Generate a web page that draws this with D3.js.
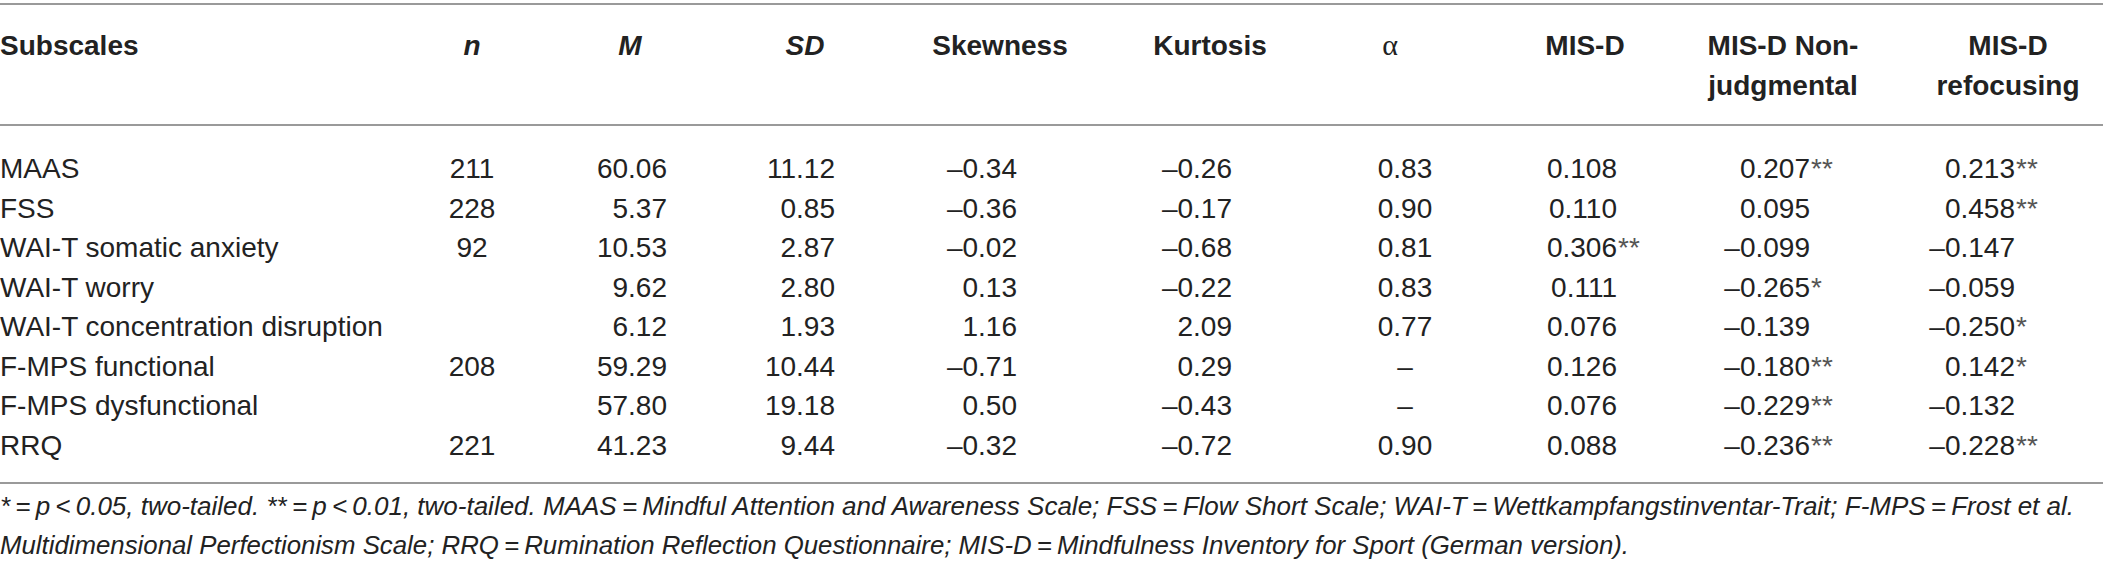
<!DOCTYPE html>
<html>
<head>
<meta charset="utf-8">
<script src="https://cdn.jsdelivr.net/npm/d3@7"></script>
<style>
  body { margin: 0; background: #fff; }
  svg { display: block; }
</style>
</head>
<body>
<div id="chart"></div>
<script>
// table contents, row by row per column
const subscales = ["MAAS", "FSS", "WAI-T somatic anxiety", "WAI-T worry", "WAI-T concentration disruption",
  "F-MPS functional", "F-MPS dysfunctional", "RRQ"]
const nValues = ["211", "228", "92", "", "", "208", "", "221"]
const means = ["60.06", "5.37", "10.53", "9.62", "6.12", "59.29", "57.80", "41.23"]
const sds = ["11.12", "0.85", "2.87", "2.80", "1.93", "10.44", "19.18", "9.44"]
const skewness = ["–0.34", "–0.36", "–0.02", "0.13", "1.16", "–0.71", "0.50", "–0.32"]
const kurtosis = ["–0.26", "–0.17", "–0.68", "–0.22", "2.09", "0.29", "–0.43", "–0.72"]
const alphas = ["0.83", "0.90", "0.81", "0.83", "0.77", "–", "–", "0.90"]
const misD = ["0.108", "0.110", "0.306**", "0.111", "0.076", "0.126", "0.076", "0.088"]
const misNonJudgmental = ["0.207**", "0.095", "–0.099", "–0.265*", "–0.139", "–0.180**", "–0.229**", "–0.236**"]
const misRefocusing = ["0.213**", "0.458**", "–0.147", "–0.059", "–0.250*", "0.142*", "–0.132", "–0.228**"]

const headers = [
  { key: "sub", lines: ["Subscales"] },
  { key: "n", lines: ["n"], italic: true },
  { key: "M", lines: ["M"], italic: true },
  { key: "SD", lines: ["SD"], italic: true },
  { key: "skew", lines: ["Skewness"] },
  { key: "kurt", lines: ["Kurtosis"] },
  { key: "alpha", lines: ["α"], greek: true },
  { key: "misd", lines: ["MIS-D"] },
  { key: "nonj", lines: ["MIS-D Non-", "judgmental"] },
  { key: "refo", lines: ["MIS-D", "refocusing"] }
]

const footnotes = [
  "*\u2009=\u2009p\u2009<\u20090.05, two-tailed. **\u2009=\u2009p\u2009<\u20090.01, two-tailed. MAAS\u2009=\u2009Mindful Attention and Awareness Scale; FSS\u2009=\u2009Flow Short Scale; WAI-T\u2009=\u2009Wettkampfangstinventar-Trait; F-MPS\u2009=\u2009Frost et al.",
  "Multidimensional Perfectionism Scale; RRQ\u2009=\u2009Rumination Reflection Questionnaire; MIS-D\u2009=\u2009Mindfulness Inventory for Sport (German version)."
]

const width = 2103
const height = 572
const fontSize = 28
const textColor = "#222"
const ruleColor = "#9a9a9a"

const svg = d3.select('#chart').append('svg').attr('width', width).attr('height', height)

const columns = [
  { key: "n", values: nValues, align: "middle" },
  { key: "M", values: means, align: "end" },
  { key: "SD", values: sds, align: "end" },
  { key: "skew", values: skewness, align: "end" },
  { key: "kurt", values: kurtosis, align: "end" },
  { key: "alpha", values: alphas, align: "middle" },
  { key: "misd", values: misD, align: "stars" },
  { key: "nonj", values: misNonJudgmental, align: "stars" },
  { key: "refo", values: misRefocusing, align: "stars" }
]

// where each header is centred
const headerX = d3.scaleOrdinal()
  .domain(headers.map(function(h) { return h.key }))
  .range([0, 472, 630, 805, 1000, 1210, 1390, 1585, 1783, 2008])

// where each column's numbers line up
const cellX = d3.scaleOrdinal()
  .domain(columns.map(function(c) { return c.key }))
  .range([472, 667, 835, 1017, 1232, 1405, 1617, 1810, 2015])

const yScale = d3.scalePoint().domain(subscales).range([168, 445])
const headerLineY = d3.scalePoint().domain([0, 1]).range([45, 85])

// rules
svg.selectAll('line.rule').data([4, 125, 483])
  .enter().append('line')
  .attr('class', 'rule')
  .attr('x1', 0).attr('x2', width)
  .attr('y1', function(d) { return d }).attr('y2', function(d) { return d })
  .attr('stroke', ruleColor).attr('stroke-width', 2)

// header
const headerG = svg.append('g')
  .attr('font-family', 'Liberation Sans, Arial, sans-serif')
  .attr('font-size', fontSize)
  .attr('font-weight', 'bold')
  .attr('fill', textColor)

headers.forEach(function(h) {
  h.lines.forEach(function(line, i) {
    const t = headerG.append('text')
      .attr('x', headerX(h.key))
      .attr('y', headerLineY(i) + 10)
      .attr('text-anchor', h.key === 'sub' ? 'start' : 'middle')
      .text(line)
    if (h.italic) t.attr('font-style', 'italic')
    if (h.greek) t.attr('font-weight', 'normal').attr('font-family', 'Liberation Serif, serif').attr('font-size', 30)
  })
})

// body
const bodyG = svg.append('g')
  .attr('font-family', 'Liberation Sans, Arial, sans-serif')
  .attr('font-size', fontSize)
  .attr('fill', textColor)

bodyG.selectAll('text.sub').data(subscales)
  .enter().append('text')
  .attr('class', 'sub')
  .attr('x', 0)
  .attr('y', function(d) { return yScale(d) + 10 })
  .text(function(d) { return d })

columns.forEach(function(col) {
  col.values.forEach(function(v, i) {
    if (v === "") return
    const y = yScale(subscales[i]) + 10
    if (col.align === "stars") {
      // numbers line up, significance stars hang to the right
      const num = v.replace(/\*+$/, '')
      const stars = v.slice(num.length)
      bodyG.append('text')
        .attr('x', cellX(col.key))
        .attr('y', y)
        .attr('text-anchor', 'end')
        .text(num)
      if (stars) {
        bodyG.append('text')
          .attr('x', cellX(col.key) + 1)
          .attr('y', y)
          .attr('fill', '#555')
          .text(stars)
      }
    } else {
      bodyG.append('text')
        .attr('x', cellX(col.key))
        .attr('y', y)
        .attr('text-anchor', col.align)
        .text(v)
    }
  })
})

// footnotes
const footY = d3.scalePoint().domain([0, 1]).range([506, 545])
const footEnd = [2074, 1629]
svg.append('g')
  .attr('font-family', 'Liberation Sans, Arial, sans-serif')
  .attr('font-size', 26)
  .attr('font-style', 'italic')
  .attr('fill', textColor)
  .selectAll('text').data(footnotes)
  .enter().append('text')
  .attr('x', 0)
  .attr('y', function(d, i) { return footY(i) + 9 })
  .attr('textLength', function(d, i) { return footEnd[i] })
  .attr('lengthAdjust', 'spacingAndGlyphs')
  .text(function(d) { return d })
</script>
</body>
</html>
